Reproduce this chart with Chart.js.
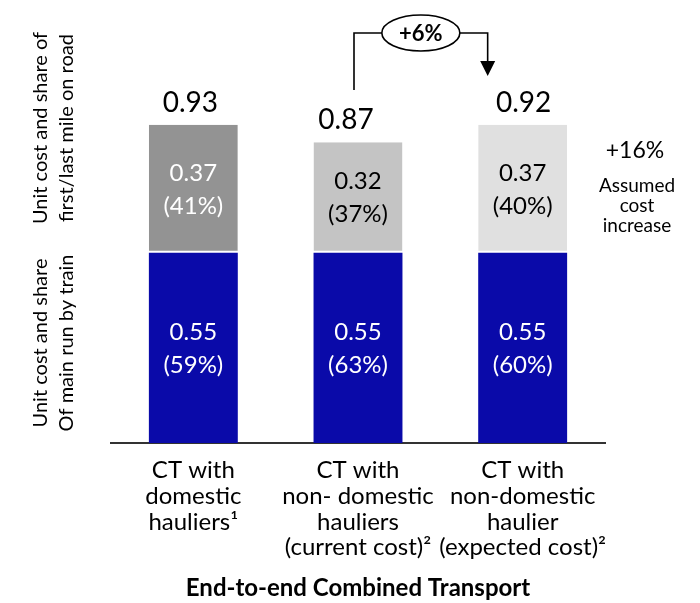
<!DOCTYPE html>
<html><head><meta charset="utf-8">
<script src="https://cdn.jsdelivr.net/npm/chart.js@4/dist/chart.umd.min.js"></script>
<style>html,body{margin:0;padding:0;background:#fff}#wrap{width:700px;height:603px}</style>
</head><body><div id="wrap"><canvas id="c" width="700" height="603"></canvas></div>
<script>
const categories = [
  ["CT with", "domestic", "hauliers\u00B9"],
  ["CT with", "non- domestic", "hauliers", "(current cost)\u00B2"],
  ["CT with", "non-domestic", "haulier", "(expected cost)\u00B2"]
];
const trainCost = [0.55, 0.55, 0.55];
const trainShare = [59, 63, 60];
const roadCost = [0.37, 0.32, 0.37];
const roadShare = [41, 37, 40];
const totals = [0.93, 0.87, 0.92];
const xAxisTitle = "End-to-end Combined Transport";
const roadAxisTitle = ["Unit cost and share of", "first/last mile on road"];
const trainAxisTitle = ["Unit cost and share", "Of main run by train"];
const changeLabel = "+6%";
const assumedIncrease = "+16%";
const assumedText = ["Assumed", "cost", "increase"];

const FONT = "Lato, 'Open Sans', sans-serif";
const BLUE = "#0a0aa9";
const ROAD_COLORS = ["#939393", "#c4c4c4", "#e0e0e0"];
const ROAD_TEXT = ["#ffffff", "#000000", "#000000"];

const overlay = {
  id: "overlay",
  afterDatasetsDraw(chart) {
    const ctx = chart.ctx;
    const xs = chart.scales.x;
    ctx.save();
    ctx.textAlign = "center";
    ctx.textBaseline = "middle";
    const drawInside = (dsIndex, costs, shares, colors) => {
      const meta = chart.getDatasetMeta(dsIndex);
      meta.data.forEach((bar, i) => {
        const cy = (bar.y + bar.base) / 2;
        ctx.fillStyle = Array.isArray(colors) ? colors[i] : colors;
        ctx.font = "24px " + FONT;
        ctx.fillText(costs[i].toFixed(2), bar.x, cy - 16);
        ctx.fillText("(" + shares[i] + "%)", bar.x, cy + 17);
      });
    };
    drawInside(0, trainCost, trainShare, "#ffffff");
    drawInside(1, roadCost, roadShare, ROAD_TEXT);
    const totalShift = [-3, -12, 1];
    const roadMeta = chart.getDatasetMeta(1);
    ctx.fillStyle = "#000";
    ctx.font = "28px " + FONT;
    ctx.textBaseline = "alphabetic";
    roadMeta.data.forEach((bar, i) => {
      ctx.fillText(totals[i].toFixed(2), bar.x + totalShift[i], bar.y - 13);
    });
    ctx.font = "20px " + FONT;
    ctx.textBaseline = "middle";
    const rot = (lines, cy) => {
      ctx.save();
      ctx.translate(0, cy);
      ctx.rotate(-Math.PI / 2);
      ctx.fillText(lines[0], 0, 41);
      ctx.fillText(lines[1], 0, 67);
      ctx.restore();
    };
    rot(roadAxisTitle, 128);
    rot(trainAxisTitle, 343);
    ctx.font = "23px " + FONT;
    ctx.fillText(assumedIncrease, 635, 151);
    ctx.font = "19px " + FONT;
    ctx.fillText(assumedText[0], 637, 186);
    ctx.fillText(assumedText[1], 637, 206);
    ctx.fillText(assumedText[2], 637, 226);
    const xl = xs.getPixelForValue(1) - 4;
    const xr = xs.getPixelForValue(2) - 35;
    const cx = (xl + xr) / 2;
    const ty = 33;
    ctx.strokeStyle = "#000";
    ctx.lineWidth = 1.6;
    ctx.beginPath();
    ctx.moveTo(xl, 90); ctx.lineTo(xl, ty); ctx.lineTo(cx - 39, ty);
    ctx.moveTo(cx + 39, ty); ctx.lineTo(xr, ty); ctx.lineTo(xr, 64);
    ctx.stroke();
    ctx.beginPath();
    ctx.ellipse(cx, ty, 39, 18, 0, 0, Math.PI * 2);
    ctx.stroke();
    ctx.fillStyle = "#000";
    ctx.beginPath();
    ctx.moveTo(xr - 7.5, 61); ctx.lineTo(xr + 7.5, 61); ctx.lineTo(xr, 76); ctx.closePath();
    ctx.fill();
    ctx.font = "bold 22px " + FONT;
    ctx.fillText(changeLabel, cx, ty + 1);
    ctx.restore();
  }
};

new Chart(document.getElementById("c"), {
  type: "bar",
  data: {
    labels: categories,
    datasets: [
      { label: "Main run by train", data: trainCost, backgroundColor: BLUE, borderWidth: 0 },
      { label: "First/last mile on road", data: roadCost, backgroundColor: ROAD_COLORS,
        borderColor: "#ffffff", borderWidth: { top: 0, left: 0, right: 0, bottom: 2 }, borderSkipped: false }
    ]
  },
  options: {
    responsive: false,
    animation: false,
    events: [],
    barPercentage: 0.54,
    categoryPercentage: 1.0,
    layout: { padding: { left: 111, right: 95, top: 28, bottom: 0 } },
    plugins: { legend: { display: false }, tooltip: { enabled: false } },
    scales: {
      x: {
        stacked: true,
        grid: { display: false, drawTicks: false },
        border: { display: true, color: "#333333", width: 2 },
        ticks: { color: "#000", font: { family: FONT, size: 24, lineHeight: 1.08 }, padding: 14, maxRotation: 0, autoSkip: false },
        title: { display: true, text: xAxisTitle, color: "#000", font: { family: FONT, size: 24, weight: "bold" }, padding: { top: 0, bottom: 0 } },
        afterFit: (s) => { s.height = 160; }
      },
      y: { stacked: true, display: false, min: 0, max: 1.2 }
    }
  },
  plugins: [overlay]
});
</script></body></html>
